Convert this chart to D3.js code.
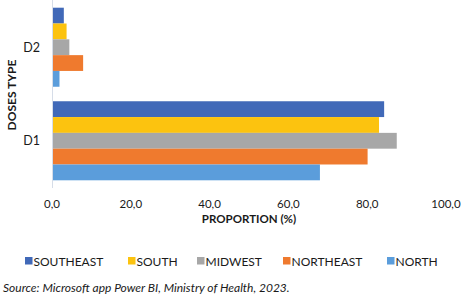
<!DOCTYPE html>
<html><head><meta charset="utf-8">
<script src="https://cdn.jsdelivr.net/npm/d3@7"></script>
<style>body{margin:0;background:#fff}svg{display:block}text{font-family:"Lato","Open Sans",sans-serif;fill:#1a1a1a}</style>
</head><body><svg id="c" width="466" height="300"></svg>
<script>
const categories = ["D2", "D1"];
const seriesNames = ["SOUTHEAST", "SOUTH", "MIDWEST", "NORTHEAST", "NORTH"];
const southeast = [3.0, 84.3];
const south = [3.7, 83.0];
const midwest = [4.4, 87.5];
const northeast = [7.9, 80.1];
const north = [1.9, 68.0];
const xTicks = [0, 20, 40, 60, 80, 100];
const colors = ["#4169b8", "#fcc30f", "#a7a7a7", "#ef7a2e", "#5b9ddb"];

const seriesValues = [southeast, south, midwest, northeast, north];
const svg = d3.select("#c");
const x = d3.scaleLinear().domain([0, 100]).range([52, 446]);
const y0 = d3.scaleBand().domain(categories).range([0.5, 187.5]).paddingInner(0.155).paddingOuter(0.077);
const y1 = d3.scaleBand().domain(seriesNames).range([0, y0.bandwidth()]);

categories.forEach((c, ci) => {
  seriesNames.forEach((s, si) => {
    svg.append("rect")
      .attr("x", x(0))
      .attr("y", y0(c) + y1(s))
      .attr("width", x(seriesValues[si][ci]) - x(0))
      .attr("height", y1.bandwidth())
      .attr("fill", colors[si]);
  });
});

// y axis line
svg.append("line").attr("x1", 52.5).attr("x2", 52.5).attr("y1", 0).attr("y2", 188)
  .attr("stroke", "#d6dde8").attr("stroke-width", 1);

// x tick labels
const fmt = d => d.toFixed(1).replace(".", ",");
svg.selectAll(".xt").data(xTicks).enter().append("text")
  .attr("x", d => x(d)).attr("y", 208).attr("text-anchor", "middle")
  .attr("font-size", 11.5).text(fmt);

svg.append("text").attr("x", 249).attr("y", 223).attr("text-anchor", "middle")
  .attr("font-size", 11.5).attr("font-weight", "bold").text("PROPORTION (%)");

// y category labels
svg.selectAll(".yt").data(categories).enter().append("text")
  .attr("x", 40).attr("y", d => y0(d) + y0.bandwidth() / 2 + 4.5).attr("text-anchor", "end")
  .attr("font-size", 12.5).text(d => d);

svg.append("text").attr("transform", "translate(16,95) rotate(-90)")
  .attr("text-anchor", "middle").attr("font-size", 12).attr("font-weight", "bold").text("DOSES TYPE");

// legend
const legX = [25, 128, 197, 283, 387];
seriesNames.forEach((s, i) => {
  svg.append("rect").attr("x", legX[i]).attr("y", 257).attr("width", 7.5).attr("height", 7.5).attr("fill", colors[i]);
  svg.append("text").attr("x", legX[i] + 8.5).attr("y", 265.5).attr("font-size", 12).text(s);
});

svg.append("text").attr("x", 3).attr("y", 292).attr("font-size", 12).attr("font-style", "italic")
  .text("Source: Microsoft app Power BI, Ministry of Health, 2023.");
</script></body></html>
